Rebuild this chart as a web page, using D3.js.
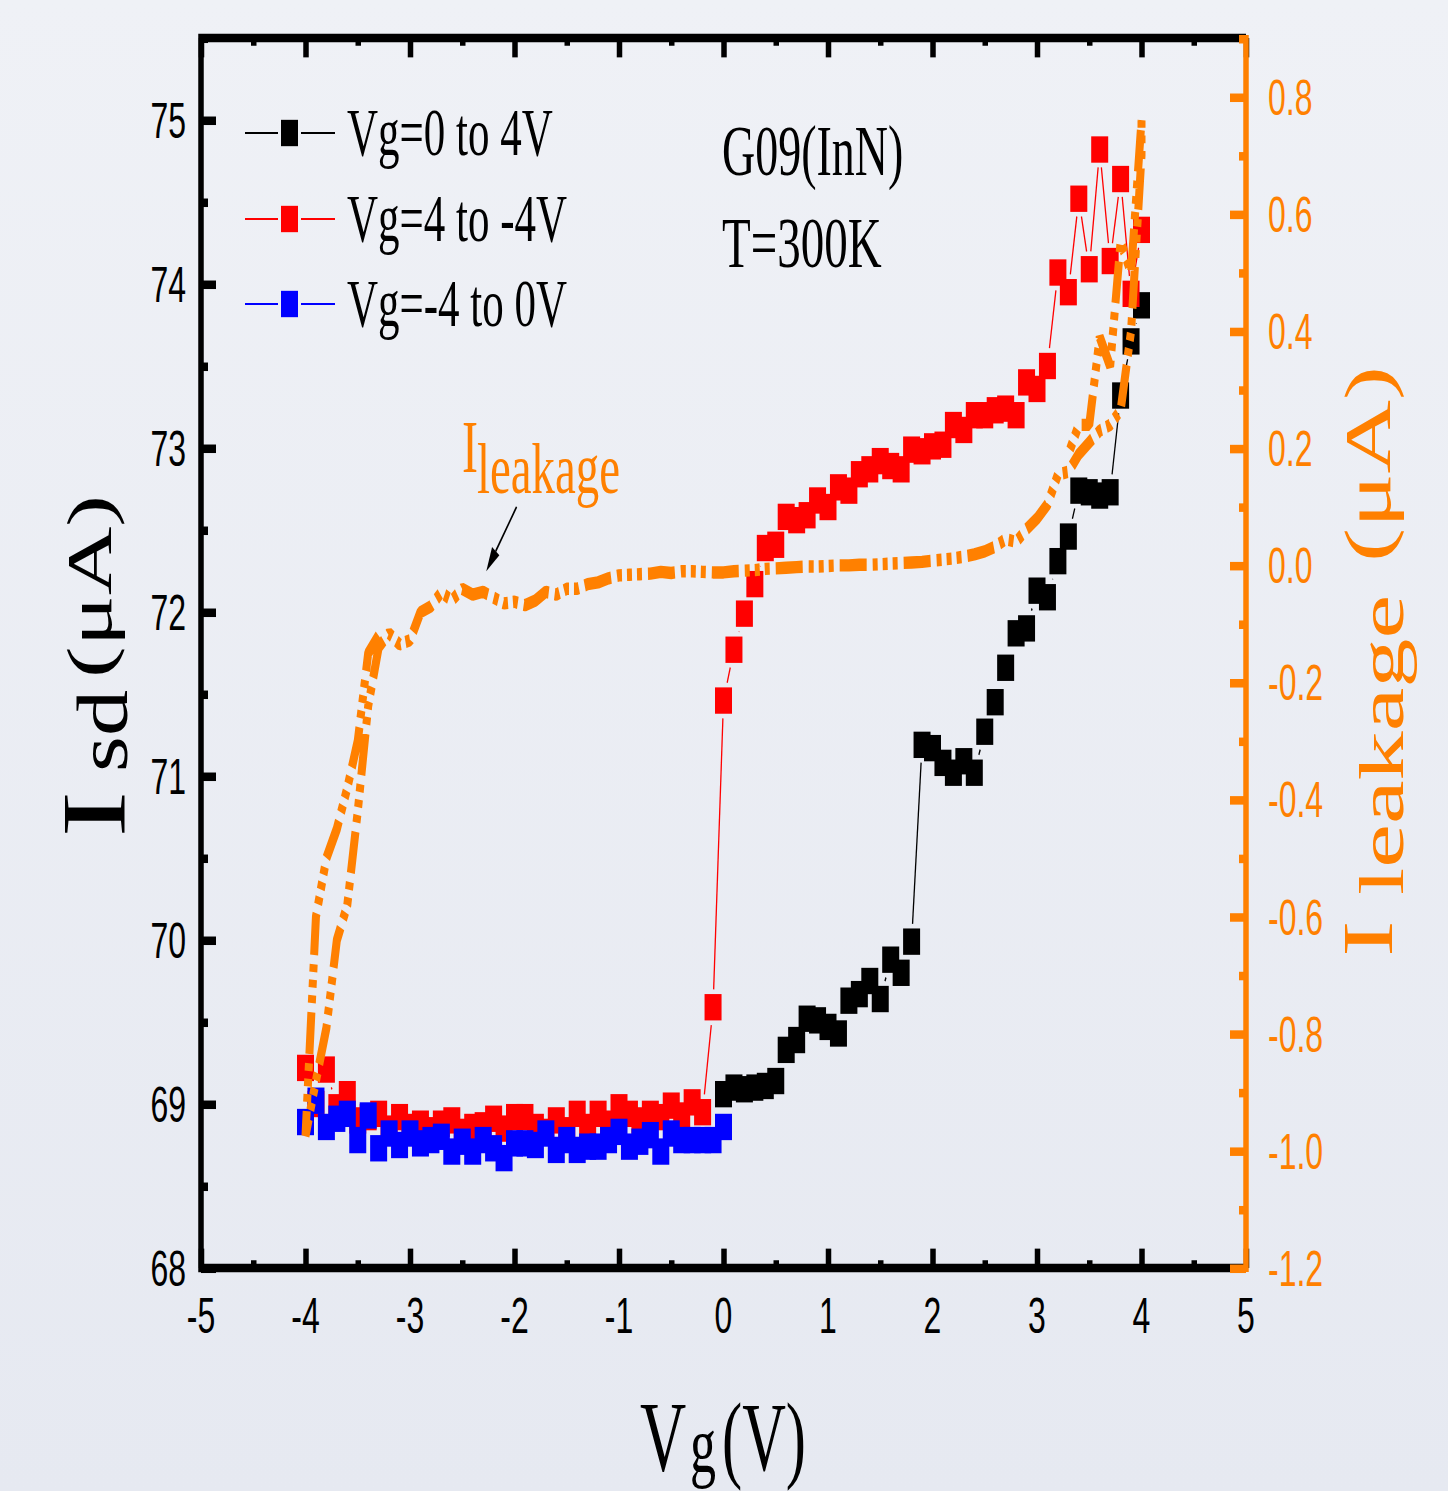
<!DOCTYPE html>
<meta charset="utf-8">
<head>
  <script src="https://d3js.org/d3.v7.min.js"></script>
  <style>
    body { margin: 0; background: #eaedf4; }
    svg { display: block; }
  </style>
</head>
<body>
<div id="chart"></div>
<script>

// gate voltage of each sweep (V)
var vgForward = [0,0.1,0.2,0.3,0.4,0.5,0.6,0.7,0.8,0.9,1.0,1.1,1.2,1.3,1.4,1.5,1.6,1.7,1.8,1.9,2.0,
  2.1,2.2,2.3,2.4,2.5,2.6,2.7,2.8,2.9,3.0,3.1,3.2,3.3,3.4,3.5,3.6,3.7,3.8,3.9,4.0];
var vgBack = [4.0,3.9,3.8,3.7,3.6,3.5,3.4,3.3,3.2,3.1,3.0,2.9,2.8,2.7,2.6,2.5,2.4,2.3,2.2,2.1,2.0,
  1.9,1.8,1.7,1.6,1.5,1.4,1.3,1.2,1.1,1.0,0.9,0.8,0.7,0.6,0.5,0.4,0.3,0.2,0.1,0.0,
  -0.1,-0.2,-0.3,-0.4,-0.5,-0.6,-0.7,-0.8,-0.9,-1.0,-1.1,-1.2,-1.3,-1.4,-1.5,-1.6,-1.7,-1.8,-1.9,-2.0,
  -2.1,-2.2,-2.3,-2.4,-2.5,-2.6,-2.7,-2.8,-2.9,-3.0,-3.1,-3.2,-3.3,-3.4,-3.5,-3.6,-3.7,-3.8,-3.9,-4.0];
var vgReturn = [-4.0,-3.9,-3.8,-3.7,-3.6,-3.5,-3.4,-3.3,-3.2,-3.1,-3.0,-2.9,-2.8,-2.7,-2.6,-2.5,-2.4,
  -2.3,-2.2,-2.1,-2.0,-1.9,-1.8,-1.7,-1.6,-1.5,-1.4,-1.3,-1.2,-1.1,-1.0,-0.9,-0.8,-0.7,-0.6,-0.5,
  -0.4,-0.3,-0.2,-0.1,0.0];

// Isd (uA)
var isdForward = [69.06,69.10,69.09,69.10,69.11,69.14,69.33,69.39,69.52,69.51,69.47,69.43,69.63,69.67,
  69.75,69.64,69.88,69.80,69.99,71.19,71.17,71.08,71.02,71.09,71.02,71.27,71.45,71.66,71.87,71.90,
  72.13,72.09,72.31,72.46,72.74,72.73,72.71,72.73,73.32,73.65,73.87];
var isdBack = [74.33,73.94,74.64,74.14,74.82,74.09,74.52,73.95,74.07,73.50,73.36,73.40,73.20,73.24,
  73.23,73.20,73.20,73.11,73.14,73.02,73.01,72.98,72.99,72.87,72.89,72.92,72.87,72.84,72.74,72.76,
  72.64,72.68,72.59,72.56,72.58,72.41,72.39,72.17,71.99,71.77,71.46,
  69.59,68.95,69.01,68.93,68.99,68.92,68.94,68.90,68.94,68.98,68.88,68.94,68.86,68.94,68.84,68.90,
  68.83,68.86,68.92,68.92,68.85,68.91,68.87,68.86,68.83,68.90,68.88,68.84,68.88,68.86,68.92,68.85,
  68.94,68.92,68.90,69.06,68.98,69.21,69.00,69.22];
var isdReturn = [68.89,69.02,68.86,68.91,68.94,68.78,68.93,68.73,68.82,68.75,68.82,68.76,68.78,68.80,
  68.71,68.77,68.71,68.78,68.73,68.67,68.76,68.76,68.75,68.82,68.72,68.78,68.72,68.74,68.74,68.78,
  68.83,68.74,68.77,68.81,68.71,68.82,68.78,68.78,68.78,68.78,68.86];

// I leakage trace (uA): left loop, flat part, right loop
var leakVg = [-3.3,-3.4,-3.5,-3.6,-3.7,-3.8,-3.9,-4.0,
  -3.9,-3.8,-3.7,-3.6,-3.5,-3.4,-3.3,-3.2,-3.1,-3.0,-2.9,
  -2.8,-2.7,-2.6,-2.5,-2.4,-2.3,-2.2,-2.1,-2.0,-1.9,-1.8,-1.7,-1.6,-1.5,-1.4,-1.3,-1.2,-1.1,-1.0,
  -0.9,-0.8,-0.7,-0.6,-0.5,-0.4,-0.3,-0.2,-0.1,0.0,0.1,0.2,0.3,0.4,0.5,0.6,0.7,0.8,0.9,1.0,
  1.1,1.2,1.3,1.4,1.5,1.6,1.7,1.8,1.9,2.0,2.1,2.2,2.3,2.4,2.5,2.6,2.7,2.8,2.9,3.0,3.1,
  3.2,3.3,3.4,3.5,3.6,3.7,3.8,3.9,4.0,4.0,3.9,3.8,3.7,3.6,3.5,3.4,3.3];
var leakVal = [-0.120,-0.150,-0.300,-0.380,-0.450,-0.500,-0.600,-0.974,
  -0.880,-0.790,-0.640,-0.580,-0.420,-0.240,-0.140,-0.116,-0.135,-0.128,-0.080,
  -0.070,-0.046,-0.060,-0.040,-0.050,-0.045,-0.055,-0.065,-0.062,-0.068,-0.060,-0.045,-0.050,-0.040,
  -0.040,-0.032,-0.029,-0.022,-0.017,
  -0.016,-0.015,-0.014,-0.011,-0.013,-0.010,-0.010,-0.011,-0.012,-0.012,-0.010,-0.009,-0.008,-0.006,
  -0.005,-0.004,-0.003,-0.002,-0.002,-0.001,
  0.000,0.000,0.001,0.001,0.002,0.003,0.004,0.005,0.006,0.008,0.010,0.012,0.015,0.019,0.024,0.032,
  0.045,0.040,0.062,0.080,0.104,
  0.155,0.160,0.190,0.210,0.230,0.240,0.265,0.400,0.700,0.760,0.500,0.553,0.340,0.390,0.240,0.240,0.190];

var xTicks = [-5,-4,-3,-2,-1,0,1,2,3,4,5];
var xMinor = [-4.5,-3.5,-2.5,-1.5,-0.5,0.5,1.5,2.5,3.5,4.5];
var yTicks = [68,69,70,71,72,73,74,75];
var yMinor = [68.5,69.5,70.5,71.5,72.5,73.5,74.5,75.5];
var rTicks = [-1.2,-1.0,-0.8,-0.6,-0.4,-0.2,0.0,0.2,0.4,0.6,0.8];
var rMinor = [-1.1,-0.9,-0.7,-0.5,-0.3,-0.1,0.1,0.3,0.5,0.7,0.9];

var seriesNames = ["Vg=0 to 4V", "Vg=4 to -4V", "Vg=-4 to 0V"];
var seriesColors = ["#000000", "#ff0000", "#0000ff"];
var orange = "#ff8000";

// the original figure is stretched vertically, so draw in a squashed space and scale up
var k = 1.55;
var W = 1448, H = 1491;
var plotLeft = 201, plotRight = 1246, plotTop = 38 / k, plotBottom = 1268 / k;

var svg = d3.select("#chart").append("svg").attr("width", W).attr("height", H);
var grad = svg.append("defs").append("linearGradient").attr("id", "bg")
  .attr("x1", 0).attr("y1", 0).attr("x2", 0).attr("y2", 1);
grad.append("stop").attr("offset", "0%").attr("stop-color", "#eff1f6");
grad.append("stop").attr("offset", "100%").attr("stop-color", "#e6e9f1");
svg.append("rect").attr("width", W).attr("height", H).attr("fill", "url(#bg)");

var g = svg.append("g").attr("transform", "scale(1," + k + ")");

var x = d3.scaleLinear().domain([-5, 5]).range([plotLeft, plotRight]);
var yL = d3.scaleLinear().domain([68, 75]).range([1268 / k, 120 / k]);
var yR = d3.scaleLinear().domain([-1.2, 0.8]).range([1268 / k, 97 / k]);

// ticks
function tickAxis(axis, vals, size, tr, color) {
  var a = g.append("g").attr("transform", tr)
    .call(axis.tickValues(vals).tickSize(-size).tickSizeOuter(0).tickFormat(""));
  a.select(".domain").remove();
  a.selectAll("line").attr("stroke", color).attr("stroke-width", 5.5);
}
tickAxis(d3.axisBottom(x), xTicks, 12.5, "translate(0," + plotBottom + ")", "#000");
tickAxis(d3.axisBottom(x), xMinor, 5, "translate(0," + plotBottom + ")", "#000");
tickAxis(d3.axisTop(x), xTicks, 12.5, "translate(0," + plotTop + ")", "#000");
tickAxis(d3.axisTop(x), xMinor, 5, "translate(0," + plotTop + ")", "#000");
tickAxis(d3.axisLeft(yL), yTicks, 15, "translate(" + plotLeft + ",0)", "#000");
tickAxis(d3.axisLeft(yL), yMinor, 7, "translate(" + plotLeft + ",0)", "#000");

// frame
g.append("path")
  .attr("d", "M" + plotRight + "," + plotTop + "H" + plotLeft + "V" + plotBottom + "H" + plotRight)
  .attr("fill", "none").attr("stroke", "#000").attr("stroke-width", 5.5);

// right orange axis
tickAxis(d3.axisRight(yR), rTicks, 16, "translate(" + plotRight + ",0)", orange);
tickAxis(d3.axisRight(yR), rMinor, 7, "translate(" + plotRight + ",0)", orange);
g.append("line").attr("x1", plotRight).attr("x2", plotRight)
  .attr("y1", 35 / k).attr("y2", 1272 / k)
  .attr("stroke", orange).attr("stroke-width", 5.5);

// tick labels
var tickFont = "'Liberation Sans', Arial, sans-serif";
g.selectAll(".xl").data(xTicks).enter().append("text")
  .attr("x", function(d) { return x(d); }).attr("y", 1333 / k)
  .attr("text-anchor", "middle").attr("font-family", tickFont).attr("font-size", 32)
  .text(function(d) { return String(d); });
g.selectAll(".yl").data(yTicks).enter().append("text")
  .attr("x", 186).attr("y", function(d) { return yL(d) + 11.5; })
  .attr("text-anchor", "end").attr("font-family", tickFont).attr("font-size", 32)
  .text(function(d) { return String(d); });
g.selectAll(".rl").data(rTicks).enter().append("text")
  .attr("x", 1268).attr("y", function(d) { return yR(d) + 11.5; })
  .attr("font-family", tickFont).attr("font-size", 32).attr("fill", orange)
  .text(function(d) { return d.toFixed(1); });

// connecting lines with a gap around each marker
function gapSegments(pts, gap) {
  var segs = [];
  for (var i = 0; i < pts.length - 1; i++) {
    var a = pts[i], b = pts[i + 1], dx = b[0] - a[0], dy = b[1] - a[1];
    var m = Math.max(Math.abs(dx), Math.abs(dy));
    if (m <= 2 * gap) continue;
    var t = gap / m;
    segs.push([a[0] + dx * t, a[1] + dy * t, b[0] - dx * t, b[1] - dy * t]);
  }
  return segs;
}

var sweeps = [[vgForward, isdForward], [vgBack, isdBack], [vgReturn, isdReturn]];
var ms = 17;
sweeps.forEach(function(s, i) {
  var pts = s[0].map(function(v, j) { return [x(v), yL(s[1][j])]; });
  g.append("g").selectAll("line").data(gapSegments(pts, ms / 2 + 3)).enter().append("line")
    .attr("x1", function(d) { return d[0]; }).attr("y1", function(d) { return d[1]; })
    .attr("x2", function(d) { return d[2]; }).attr("y2", function(d) { return d[3]; })
    .attr("stroke", seriesColors[i]).attr("stroke-width", 1.3);
  g.append("g").selectAll("rect").data(pts).enter().append("rect")
    .attr("x", function(d) { return d[0] - ms / 2; })
    .attr("y", function(d) { return d[1] - ms / 2; })
    .attr("width", ms).attr("height", ms)
    .attr("fill", seriesColors[i]);
});

// leakage current, dash-dot-dot-dot
var leakPts = leakVg.map(function(v, j) { return [v, leakVal[j]]; });
g.append("path").datum(leakPts)
  .attr("d", d3.line().x(function(d) { return x(d[0]); }).y(function(d) { return yR(d[1]); }))
  .attr("fill", "none").attr("stroke", orange).attr("stroke-width", 8)
  .attr("stroke-linejoin", "bevel")
  .attr("stroke-dasharray", "27 6 5 5 5 5 5 6");

// legend
var serif = "'Liberation Serif', 'Times New Roman', serif";
var legY = [133, 219, 304];
seriesNames.forEach(function(name, i) {
  var ly = legY[i] / k;
  g.append("line").attr("x1", 245).attr("x2", 278).attr("y1", ly).attr("y2", ly)
    .attr("stroke", seriesColors[i]).attr("stroke-width", 1.3);
  g.append("line").attr("x1", 301).attr("x2", 335).attr("y1", ly).attr("y2", ly)
    .attr("stroke", seriesColors[i]).attr("stroke-width", 1.3);
  g.append("rect").attr("x", 289.5 - ms / 2).attr("y", ly - ms / 2)
    .attr("width", ms).attr("height", ms).attr("fill", seriesColors[i]);
  g.append("text").attr("x", 347).attr("y", (legY[i] + 22) / k)
    .attr("font-family", serif).attr("font-size", 43).text(name);
});

function label(parent, xx, yy, s, size, color, len) {
  var t = parent.append("text").attr("x", xx).attr("y", yy)
    .attr("font-family", serif).attr("font-size", size).attr("fill", color || "#000").text(s);
  if (len) t.attr("textLength", len).attr("lengthAdjust", "spacingAndGlyphs");
  return t;
}

label(g, 722, 175 / k, "G09(InN)", 46);
label(g, 722, 267 / k, "T=300K", 47);

// leakage annotation with arrow
label(g, 462, 472 / k, "I", 48, orange);
label(g, 477, 493 / k, "leakage", 47, orange, 143);
var tip = [x(-2.27), yR(-0.01)], from = [x(-1.98), yR(0.10)];
var dx = tip[0] - from[0], dy = tip[1] - from[1], dl = Math.sqrt(dx * dx + dy * dy);
var ux = dx / dl, uy = dy / dl, hl = 16, hw = 4.5;
g.append("line").attr("x1", from[0]).attr("y1", from[1])
  .attr("x2", tip[0] - ux * hl).attr("y2", tip[1] - uy * hl)
  .attr("stroke", "#000").attr("stroke-width", 1.5);
g.append("path").attr("d", "M" + tip[0] + "," + tip[1] +
    "L" + (tip[0] - ux * hl - uy * hw) + "," + (tip[1] - uy * hl + ux * hw) +
    "L" + (tip[0] - ux * hl + uy * hw) + "," + (tip[1] - uy * hl - ux * hw) + "Z")
  .attr("fill", "#000");

// x title
label(g, 640, 1470 / k, "V", 64);
label(g, 690, 1472 / k, "g", 52);
label(g, 722, 1470 / k, "(V)", 63, "#000", 84);

// left title
var lt = g.append("g").attr("transform", "translate(125," + (838 / k) + ") rotate(-90)");
label(lt, 0, 0, "I", 92);
label(lt, (838 - 772) / k, 2, "sd", 72, "#000", 82 / k);
label(lt, (838 - 678) / k, -14, "(\u03bcA)", 64, "#000", 183 / k);

// right title
var rt = g.append("g").attr("transform", "translate(1392," + (957 / k) + ") rotate(-90)");
label(rt, 0, 0, "I", 71, orange);
label(rt, (957 - 895) / k, 11, "leakage", 63, orange, 300 / k);
label(rt, (957 - 562) / k, -2, "(\u03bcA)", 66, orange, 196 / k);

</script>
</body>
